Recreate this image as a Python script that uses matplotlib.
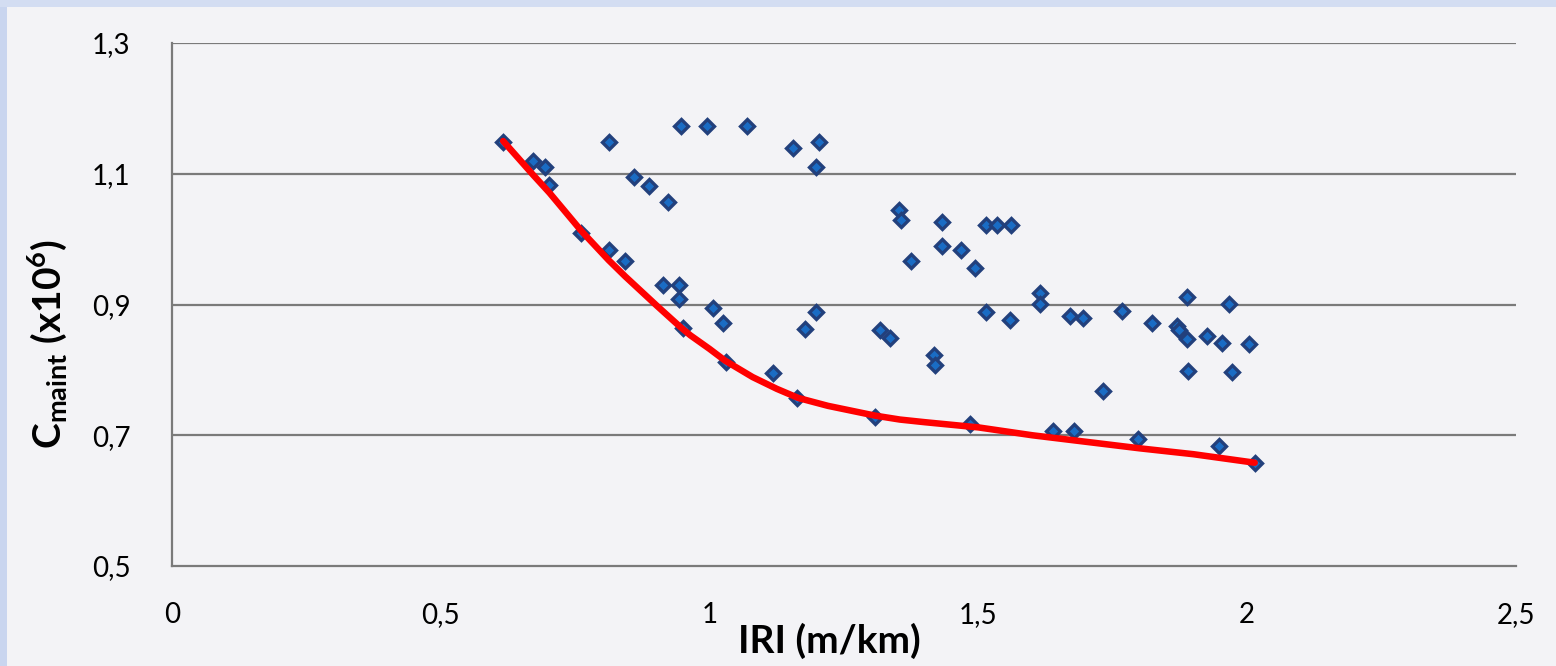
import matplotlib
matplotlib.use("Agg")
import matplotlib.pyplot as plt
from matplotlib.patches import Rectangle

# Maintenance cost versus roughness (IRI) observations
iri = [0.615, 0.672, 0.694, 0.702, 0.761, 0.812, 0.812, 0.843, 0.860, 0.887,
       0.923, 0.913, 0.946, 0.944, 0.944, 0.951, 0.995, 1.006, 1.024, 1.030,
       1.070, 1.118, 1.155, 1.203, 1.197, 1.178, 1.197, 1.163,
       1.308, 1.317, 1.336, 1.353, 1.356, 1.375, 1.418, 1.420, 1.432, 1.432,
       1.468, 1.484, 1.493, 1.514, 1.515, 1.535, 1.559, 1.561, 1.615, 1.615,
       1.639, 1.670, 1.678, 1.694, 1.731, 1.768, 1.797, 1.822, 1.870, 1.874,
       1.888, 1.888, 1.889, 1.926, 1.948, 1.953, 1.967, 1.971, 2.004, 2.014]
cost = [1.149, 1.119, 1.111, 1.083, 1.009, 1.149, 0.984, 0.967, 1.095, 1.082,
        1.057, 0.930, 1.173, 0.930, 0.909, 0.864, 1.173, 0.894, 0.872, 0.812,
        1.173, 0.795, 1.139, 1.149, 1.110, 0.862, 0.889, 0.757,
        0.728, 0.861, 0.849, 1.044, 1.030, 0.966, 0.822, 0.807, 1.026, 0.989,
        0.984, 0.717, 0.956, 1.021, 0.889, 1.021, 0.876, 1.021, 0.918, 0.901,
        0.707, 0.883, 0.707, 0.880, 0.767, 0.890, 0.694, 0.872, 0.867, 0.861,
        0.911, 0.847, 0.799, 0.852, 0.683, 0.841, 0.901, 0.797, 0.840, 0.657]

# Lower-envelope trend curve
trend_x = [0.616, 0.672, 0.702, 0.762, 0.812, 0.843, 0.902, 0.945, 0.964, 1.000,
           1.029, 1.080, 1.125, 1.165, 1.220, 1.308, 1.354, 1.400, 1.500, 1.600,
           1.700, 1.800, 1.900, 2.014]
trend_y = [1.150, 1.098, 1.071, 1.012, 0.968, 0.943, 0.898, 0.866, 0.853, 0.832,
           0.814, 0.789, 0.771, 0.757, 0.745, 0.730, 0.724, 0.720, 0.712, 0.700,
           0.690, 0.680, 0.671, 0.658]

x_ticks = [0, 0.5, 1, 1.5, 2, 2.5]
x_tick_labels = ["0", "0,5", "1", "1,5", "2", "2,5"]
y_ticks = [0.5, 0.7, 0.9, 1.1, 1.3]
y_tick_labels = ["0,5", "0,7", "0,9", "1,1", "1,3"]

plt.rcParams["font.family"] = ["Lato", "DejaVu Sans"]
plt.rcParams["mathtext.fontset"] = "custom"
plt.rcParams["mathtext.rm"] = "Lato"
plt.rcParams["mathtext.bf"] = "Lato:bold"

bg = "#f3f3f6"
fig = plt.figure(figsize=(15.56, 6.66), dpi=100, facecolor=bg)

# light blue frame strips along the top and left edges
fig.patches.append(Rectangle((0, 0), 7 / 1556, 1, transform=fig.transFigure,
                             facecolor="#c9d5ef", edgecolor="none", zorder=0))
fig.patches.append(Rectangle((0, 1 - 7 / 666), 1, 7 / 666, transform=fig.transFigure,
                             facecolor="#d3ddf2", edgecolor="none", zorder=0))

ax = fig.add_axes([172 / 1556, 1 - 566 / 666, (1516 - 172) / 1556, (566 - 43) / 666])
ax.set_facecolor(bg)

ax.set_xlim(0, 2.5)
ax.set_ylim(0.5, 1.3)

grid_color = "#7a7a7a"
for yv in y_ticks[1:]:
    ax.axhline(yv, color=grid_color, lw=1.6, zorder=1)

for side in ("top", "right"):
    ax.spines[side].set_visible(False)
for side in ("left", "bottom"):
    ax.spines[side].set_color(grid_color)
    ax.spines[side].set_linewidth(1.6)

ax.plot(iri, cost, linestyle="none", marker="D", markersize=7,
        markerfacecolor="#1a6cc4", markeredgecolor="#22407c",
        markeredgewidth=2.4, zorder=3)
ax.plot(trend_x, trend_y, color="#ff0000", lw=4.7, solid_capstyle="round",
        solid_joinstyle="round", zorder=4)

ax.set_xticks(x_ticks)
ax.set_xticklabels(x_tick_labels)
ax.set_yticks(y_ticks)
ax.set_yticklabels(y_tick_labels)
ax.tick_params(axis="both", length=0, labelsize=20, colors="#000000")
ax.tick_params(axis="x", pad=26)
ax.tick_params(axis="y", pad=30)

ax.set_xlabel("IRI (m/km)", fontsize=28, fontweight="bold")
ax.xaxis.set_label_coords(0.489, -0.108)
ax.set_ylabel(r"$\mathbf{C_{maint}}$ (x10$^{\mathbf{6}}$)", fontsize=28,
              fontweight="bold")
ax.yaxis.set_label_coords(-0.077, 0.425)

fig.savefig("out.png", dpi=100, facecolor=bg)
